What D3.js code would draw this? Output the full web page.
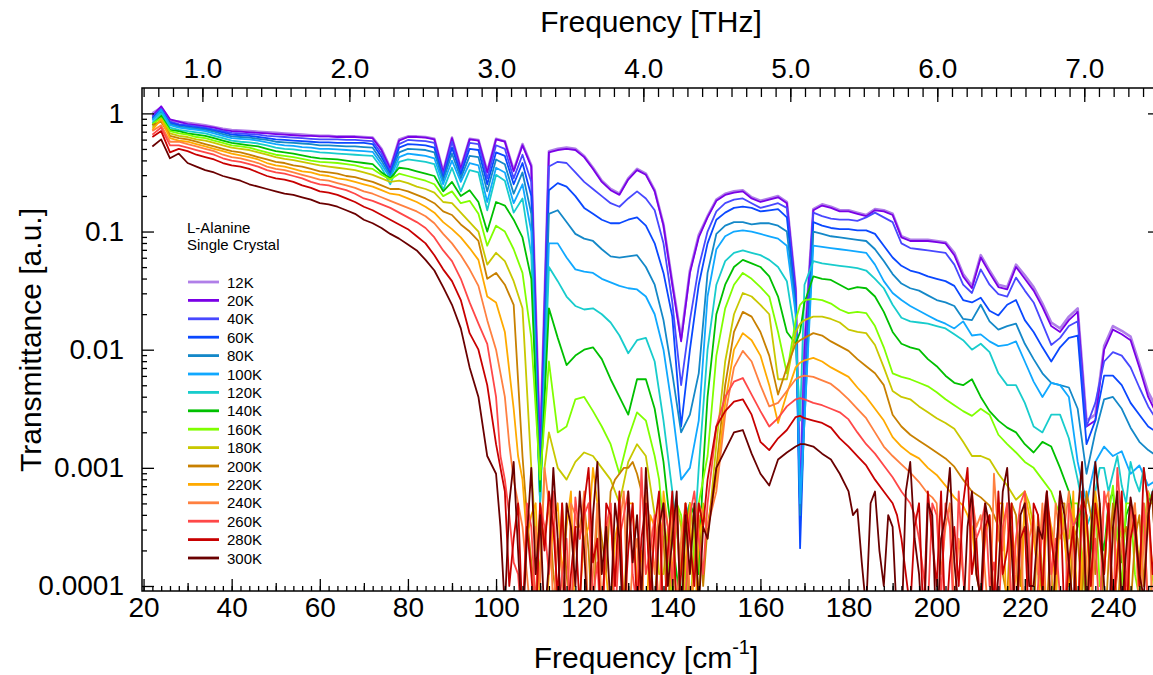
<!DOCTYPE html>
<html>
<head>
<meta charset="utf-8">
<script src="https://cdn.jsdelivr.net/npm/d3@7"></script>
<style>
  body { margin: 0; background: #fff; }
  svg { display: block; font-family: "Liberation Sans", Arial, sans-serif; }
  .tick-label { font-size: 28px; fill: #000; }
  .axis-title { font-size: 30px; fill: #000; }
  .legend text { font-size: 15px; fill: #000; }
</style>
</head>
<body>
<svg id="chart" width="1153" height="675"></svg>
<script>
// wavenumber grid in cm-1, shared by every temperature
const wavenumber = [
  22, 24, 26, 28, 30, 32, 34, 36, 38, 40,
  42, 44, 46, 48, 50, 52, 54, 56, 58, 60,
  62, 64, 66, 68, 70, 72, 74, 76, 78, 80,
  82, 84, 86, 88, 90, 92, 94, 96, 98, 100,
  102, 104, 106, 108, 110, 112, 114, 116, 118, 120,
  122, 124, 126, 128, 130, 132, 134, 136, 138, 140,
  142, 144, 146, 148, 150, 152, 154, 156, 158, 160,
  162, 164, 166, 168, 169, 170, 172, 174, 176, 178,
  180, 182, 184, 186, 188, 190, 192, 194, 196, 198,
  200, 202, 204, 206, 208, 210, 212, 214, 216, 218,
  220, 222, 224, 226, 228, 230, 232, 234, 236, 238,
  240, 242, 244, 246, 248, 250
]
// extra points in the two noise-floor bands (odd wavenumbers)
const oddWavenumber = [
  101, 103, 105, 107, 109, 111, 113, 115, 117, 119, 121, 123,
  125, 127, 129, 131, 133, 135, 137, 139, 141, 143, 145, 147,
  181, 183, 185, 187, 189, 191, 193, 195, 197, 199, 201, 203,
  205, 207, 209, 211, 213, 215, 217, 219, 221, 223, 225, 227,
  229, 231, 233, 235, 237, 239, 241, 243, 245, 247, 249
]

const temperatures = ['12K', '20K', '40K', '60K', '80K', '100K', '120K', '140K',
  '160K', '180K', '200K', '220K', '240K', '260K', '280K', '300K']
const colors = ['#b07fe8', '#7a00e6', '#4848ff', '#0a48ff', '#1488c8', '#10a8ff',
  '#18cccc', '#00c000', '#80ff00', '#c8c800', '#c88000', '#ffaa00',
  '#ff8040', '#ff4848', '#c80000', '#6a0000']

// log10 of transmittance
const log12K = [
  0.0, 0.05, -0.06, -0.07, -0.08, -0.09, -0.1, -0.115, -0.13, -0.14,
  -0.145, -0.15, -0.155, -0.16, -0.165, -0.17, -0.175, -0.18, -0.185, -0.19,
  -0.19, -0.195, -0.195, -0.195, -0.2, -0.205, -0.3, -0.46, -0.22, -0.195,
  -0.195, -0.2, -0.215, -0.49, -0.205, -0.46, -0.215, -0.225, -0.49, -0.215,
  -0.235, -0.48, -0.26, -0.44, -2.85, -0.32, -0.3, -0.29, -0.3, -0.36,
  -0.46, -0.57, -0.64, -0.68, -0.55, -0.47, -0.51, -0.65, -0.94, -1.43,
  -1.9, -1.33, -1.03, -0.87, -0.73, -0.68, -0.66, -0.65, -0.71, -0.74,
  -0.72, -0.7, -0.75, -1.48, -3.25, -1.95, -0.81, -0.77, -0.79, -0.82,
  -0.82, -0.84, -0.86, -0.81, -0.82, -0.85, -1.04, -1.07, -1.07, -1.07,
  -1.08, -1.09, -1.18, -1.36, -1.46, -1.2, -1.33, -1.45, -1.47, -1.28,
  -1.37, -1.47, -1.61, -1.77, -1.82, -1.72, -1.65, -2.6, -2.55, -1.97,
  -1.8, -1.84, -1.89, -2.12, -2.36, -2.5
]
const log20K = [
  -0.02, 0.06, -0.05, -0.07, -0.09, -0.10, -0.11, -0.12, -0.14, -0.15,
  -0.155, -0.16, -0.165, -0.17, -0.175, -0.18, -0.185, -0.19, -0.19, -0.195,
  -0.195, -0.2, -0.2, -0.2, -0.205, -0.21, -0.31, -0.47, -0.23, -0.2,
  -0.2, -0.205, -0.22, -0.5, -0.21, -0.47, -0.22, -0.23, -0.5, -0.22,
  -0.24, -0.49, -0.27, -0.45, -2.9, -0.33, -0.31, -0.3, -0.31, -0.37,
  -0.47, -0.58, -0.65, -0.69, -0.56, -0.48, -0.52, -0.66, -0.95, -1.45,
  -1.93, -1.35, -1.05, -0.88, -0.74, -0.69, -0.67, -0.66, -0.72, -0.75,
  -0.73, -0.71, -0.76, -1.5, -3.3, -2.0, -0.82, -0.78, -0.8, -0.83,
  -0.83, -0.85, -0.87, -0.82, -0.83, -0.86, -1.05, -1.08, -1.08, -1.08,
  -1.09, -1.1, -1.2, -1.38, -1.48, -1.22, -1.35, -1.47, -1.49, -1.3,
  -1.4, -1.5, -1.64, -1.8, -1.85, -1.75, -1.68, -2.65, -2.6, -2.0,
  -1.83, -1.87, -1.92, -2.15, -2.4, -2.55
]
const log40K = [
  -0.03, 0.04, -0.07, -0.09, -0.10, -0.11, -0.12, -0.135, -0.15, -0.165,
  -0.17, -0.175, -0.18, -0.19, -0.195, -0.2, -0.205, -0.21, -0.215, -0.22,
  -0.22, -0.22, -0.225, -0.225, -0.23, -0.235, -0.34, -0.49, -0.26, -0.225,
  -0.23, -0.235, -0.25, -0.53, -0.24, -0.5, -0.25, -0.26, -0.55, -0.27,
  -0.3, -0.55, -0.35, -0.58, -3.1, -0.45, -0.41, -0.42, -0.5, -0.58,
  -0.64, -0.7, -0.76, -0.79, -0.72, -0.66, -0.72, -0.82, -1.1, -1.6,
  -2.3, -1.75, -1.3, -1.0, -0.83, -0.76, -0.73, -0.72, -0.76, -0.8,
  -0.78, -0.76, -0.8, -1.55, -3.3, -2.2, -0.84, -0.87, -0.89, -0.9,
  -0.9, -0.91, -0.88, -0.84, -0.88, -0.92, -1.1, -1.14, -1.15, -1.16,
  -1.17, -1.18, -1.28, -1.45, -1.52, -1.32, -1.45, -1.53, -1.55, -1.39,
  -1.5, -1.6, -1.78, -1.96, -1.9, -1.8, -1.76, -2.65, -2.45, -2.1,
  -2.02, -2.05, -2.15, -2.32, -2.48, -2.6
]
const log60K = [
  -0.04, 0.03, -0.08, -0.10, -0.11, -0.12, -0.13, -0.145, -0.16, -0.18,
  -0.185, -0.19, -0.2, -0.21, -0.22, -0.225, -0.23, -0.235, -0.24, -0.245,
  -0.245, -0.25, -0.25, -0.25, -0.25, -0.26, -0.37, -0.51, -0.29, -0.26,
  -0.265, -0.27, -0.29, -0.55, -0.29, -0.52, -0.3, -0.31, -0.6, -0.33,
  -0.36, -0.6, -0.42, -0.7, -3.2, -0.65, -0.59, -0.62, -0.7, -0.8,
  -0.85, -0.9, -0.93, -0.93, -0.9, -0.88, -0.95, -1.1, -1.35, -1.72,
  -2.65, -2.0, -1.45, -1.1, -0.9, -0.84, -0.8, -0.79, -0.8, -0.83,
  -0.82, -0.81, -0.88, -1.6, -3.68, -2.5, -0.92, -0.95, -0.97, -0.98,
  -0.98, -0.99, -0.99, -1.02, -1.12, -1.22, -1.29, -1.33, -1.35, -1.38,
  -1.40, -1.42, -1.46, -1.58, -1.6, -1.56, -1.67, -1.71, -1.62, -1.58,
  -1.75, -1.85, -1.98, -2.1, -1.98, -1.9, -1.88, -2.8, -2.6, -2.22,
  -2.22, -2.3, -2.45, -2.55, -2.65, -2.7
]
const log80K = [
  -0.05, 0.02, -0.09, -0.11, -0.12, -0.13, -0.14, -0.155, -0.175, -0.195,
  -0.2, -0.205, -0.215, -0.225, -0.24, -0.245, -0.25, -0.255, -0.26, -0.27,
  -0.27, -0.275, -0.28, -0.28, -0.285, -0.29, -0.4, -0.53, -0.33, -0.3,
  -0.305, -0.31, -0.33, -0.57, -0.34, -0.55, -0.36, -0.37, -0.66, -0.39,
  -0.43, -0.68, -0.5, -0.85, -3.3, -0.85, -0.82, -0.92, -1.02, -1.06,
  -1.08, -1.15, -1.21, -1.22, -1.21, -1.2, -1.3, -1.45, -1.75, -2.2,
  -2.7, -2.55, -2.2, -1.35, -1.02, -0.95, -0.92, -0.92, -0.94, -0.93,
  -0.93, -0.95, -1.0, -1.65, -3.4, -2.6, -1.0, -1.02, -1.04, -1.05,
  -1.06, -1.07, -1.08, -1.15, -1.25, -1.36, -1.44, -1.48, -1.5, -1.54,
  -1.58, -1.6, -1.63, -1.74, -1.75, -1.62, -1.76, -1.83, -1.8, -1.78,
  -1.95, -2.08, -2.2, -2.28, -2.3, -2.32, -2.5, -3.05, -2.7, -2.42,
  -2.4, -2.5, -2.66, -2.78, -2.85, -2.9
]
const log100K = [
  -0.06, 0.03, -0.1, -0.12, -0.13, -0.14, -0.15, -0.17, -0.19, -0.21,
  -0.215, -0.22, -0.23, -0.245, -0.26, -0.27, -0.275, -0.285, -0.29, -0.3,
  -0.3, -0.305, -0.31, -0.315, -0.32, -0.325, -0.43, -0.55, -0.37, -0.34,
  -0.35, -0.36, -0.38, -0.6, -0.4, -0.58, -0.42, -0.44, -0.75, -0.46,
  -0.5, -0.76, -0.6, -1.0, -3.3, -1.1, -1.1, -1.22, -1.32, -1.34,
  -1.35, -1.4, -1.43, -1.46, -1.48, -1.49, -1.55, -1.7, -2.0, -2.5,
  -3.1, -3.0, -2.6, -1.55, -1.15, -1.04, -1.0, -0.99, -1.0, -1.02,
  -1.04, -1.06, -1.12, -1.7, -3.3, -2.6, -1.12, -1.13, -1.14, -1.15,
  -1.16, -1.17, -1.18, -1.28, -1.42, -1.52, -1.58, -1.63, -1.67, -1.71,
  -1.75, -1.78, -1.82, -1.76, -1.88, -1.87, -1.93, -1.97, -1.96, -1.93,
  -2.1, -2.27, -2.4, -2.28, -2.3, -2.4, -2.95, -3.3, -2.95, -2.82,
  -2.9, -2.86, -3.05, -2.98, -3.15, -3.1
]
const log120K = [
  -0.08, 0.0, -0.12, -0.14, -0.15, -0.16, -0.17, -0.19, -0.21, -0.23,
  -0.24, -0.245, -0.255, -0.27, -0.29, -0.3, -0.305, -0.315, -0.32, -0.33,
  -0.335, -0.34, -0.345, -0.35, -0.355, -0.36, -0.46, -0.6, -0.41, -0.39,
  -0.4, -0.41, -0.43, -0.65, -0.46, -0.66, -0.48, -0.5, -0.82, -0.52,
  -0.57, -0.84, -0.72, -1.2, -3.3, -1.3, -1.42, -1.55, -1.63, -1.66,
  -1.65, -1.7, -1.77, -1.88, -2.03, -1.92, -1.9, -2.1, -2.6, -3.2,
  -3.9, -3.3, -3.0, -2.0, -1.45, -1.25, -1.18, -1.16, -1.18, -1.2,
  -1.24, -1.3, -1.42, -1.9, -2.6, -1.45, -1.25, -1.27, -1.28, -1.29,
  -1.3, -1.31, -1.33, -1.4, -1.48, -1.62, -1.73, -1.76, -1.77, -1.78,
  -1.8, -1.82, -1.87, -1.92, -2.0, -1.95, -2.02, -2.2, -2.3, -2.3,
  -2.45, -2.65, -2.7, -2.55, -2.55, -2.75, -3.1, -3.5, -3.2, -3.0,
  -3.05, -3.15, -2.95, -3.2, -3.3, -3.1
]
const log140K = [
  -0.10, -0.02, -0.14, -0.15, -0.17, -0.18, -0.19, -0.21, -0.23, -0.25,
  -0.26, -0.27, -0.28, -0.3, -0.32, -0.33, -0.34, -0.355, -0.37, -0.38,
  -0.385, -0.39, -0.4, -0.41, -0.42, -0.43, -0.5, -0.55, -0.46, -0.47,
  -0.49, -0.51, -0.53, -0.66, -0.58, -0.7, -0.65, -0.75, -1.0, -0.75,
  -0.78, -0.9, -1.05, -1.4, -3.2, -1.65, -1.9, -2.13, -2.05, -2.0,
  -1.98, -2.08, -2.25, -2.4, -2.55, -2.25, -2.25, -2.5, -2.95, -3.6,
  -4.2, -3.3, -3.9, -2.4, -1.7, -1.45, -1.3, -1.24, -1.27, -1.3,
  -1.38, -1.55, -1.85, -1.95, -1.85, -1.6, -1.38, -1.4, -1.41, -1.45,
  -1.49, -1.47, -1.48, -1.55, -1.68, -1.85, -1.95, -1.98, -2.0, -2.08,
  -2.14, -2.22, -2.28, -2.3, -2.25, -2.4, -2.52, -2.6, -2.66, -2.7,
  -2.8, -2.87, -2.78, -2.82, -3.0, -3.2, -3.5, -4.0, -3.3, -3.7,
  -3.2, -3.8, -3.3, -3.9, -3.25, -3.1
]
const log160K = [
  -0.09, -0.04, -0.15, -0.17, -0.18, -0.2, -0.21, -0.23, -0.25, -0.27,
  -0.28, -0.29, -0.31, -0.33, -0.35, -0.36, -0.37, -0.385, -0.4, -0.41,
  -0.415, -0.42, -0.43, -0.44, -0.46, -0.47, -0.52, -0.56, -0.51, -0.53,
  -0.55, -0.57, -0.6, -0.7, -0.66, -0.76, -0.74, -0.85, -1.12, -0.95,
  -1.0, -1.15, -1.35, -1.9, -3.1, -2.1, -2.7, -2.65, -2.42, -2.4,
  -2.52, -2.65, -2.8, -3.05, -2.75, -2.53, -2.6, -2.9, -3.5, -4.1,
  -3.4, -4.3, -3.3, -2.9, -2.05, -1.65, -1.45, -1.35, -1.4, -1.47,
  -1.55, -1.85, -2.2, -1.75, -1.62, -1.58, -1.57, -1.58, -1.61, -1.66,
  -1.69, -1.68, -1.69, -1.8, -1.98, -2.2, -2.23, -2.25, -2.28, -2.31,
  -2.36, -2.42, -2.47, -2.52, -2.56, -2.5, -2.55, -2.72, -2.8, -2.87,
  -2.95, -3.0, -3.1, -3.2, -3.4, -3.9, -3.3, -4.2, -3.25, -3.8,
  -3.15, -4.0, -3.3, -4.1, -3.2, -3.5
]
const log180K = [
  -0.12, -0.05, -0.17, -0.19, -0.2, -0.22, -0.23, -0.25, -0.27, -0.29,
  -0.3, -0.31, -0.33, -0.35, -0.37, -0.385, -0.395, -0.41, -0.425, -0.44,
  -0.45, -0.46, -0.47, -0.48, -0.5, -0.52, -0.55, -0.58, -0.57, -0.59,
  -0.62, -0.64, -0.67, -0.75, -0.76, -0.84, -0.92, -1.0, -1.28, -1.18,
  -1.25, -1.42, -1.65, -3.0, -3.9, -2.7, -3.0, -3.1, -2.95, -2.87,
  -2.9, -3.0, -3.1, -3.3, -2.95, -2.8, -2.9, -3.4, -3.9, -4.3,
  -3.5, -3.3, -4.1, -3.6, -2.8, -2.1, -1.7, -1.52, -1.55, -1.62,
  -1.7, -2.25, -2.25, -1.85, -1.78, -1.75, -1.72, -1.72, -1.74, -1.77,
  -1.83, -1.85, -1.86, -1.96, -2.15, -2.35, -2.4, -2.42, -2.48, -2.53,
  -2.58, -2.62, -2.67, -2.78, -2.9, -2.9, -2.93, -3.05, -3.15, -3.27,
  -3.2, -3.5, -4.1, -3.9, -3.3, -3.6, -4.4, -3.4, -3.3, -3.9,
  -4.2, -3.5, -3.3, -3.8, -4.3, -3.4
]
const log200K = [
  -0.1, -0.07, -0.19, -0.21, -0.22, -0.24, -0.26, -0.28, -0.3, -0.32,
  -0.33, -0.35, -0.37, -0.39, -0.41, -0.42, -0.44, -0.45, -0.47, -0.49,
  -0.5, -0.51, -0.53, -0.54, -0.56, -0.58, -0.61, -0.64, -0.64, -0.66,
  -0.69, -0.72, -0.76, -0.83, -0.86, -0.94, -1.0, -1.08, -1.4, -1.35,
  -1.45, -1.62, -2.9, -3.8, -3.4, -3.3, -4.2, -3.9, -3.5, -3.3,
  -4.4, -3.6, -3.2, -3.05, -3.0, -3.05, -3.4, -4.2, -3.6, -3.3,
  -3.9, -4.4, -3.4, -3.5, -3.0, -2.3, -1.85, -1.68, -1.72, -1.85,
  -2.05, -2.38, -2.15, -1.95, -1.92, -1.9, -1.86, -1.88, -1.93, -1.97,
  -2.01, -2.08, -2.14, -2.2, -2.3, -2.55, -2.65, -2.72, -2.77, -2.82,
  -2.87, -2.92, -2.99, -3.1, -3.2, -3.25, -3.32, -3.5, -4.1, -3.4,
  -3.3, -4.3, -3.9, -3.5, -3.3, -4.4, -3.6, -3.2, -3.9, -4.5,
  -3.3, -3.6, -4.2, -3.4, -3.3, -3.9
]
const log220K = [
  -0.14, -0.05, -0.21, -0.23, -0.24, -0.26, -0.28, -0.3, -0.32, -0.34,
  -0.355, -0.37, -0.39, -0.42, -0.44, -0.45, -0.47, -0.49, -0.5, -0.52,
  -0.53, -0.55, -0.56, -0.58, -0.6, -0.62, -0.65, -0.68, -0.69, -0.72,
  -0.75, -0.79, -0.84, -0.92, -0.98, -1.05, -1.14, -1.24, -1.55, -1.6,
  -1.85, -2.5, -3.1, -3.4, -4.2, -3.9, -3.3, -3.5, -4.4, -3.6,
  -3.0, -3.8, -4.3, -3.4, -3.3, -4.0, -4.5, -3.5, -3.2, -3.9,
  -4.2, -3.3, -3.6, -3.5, -3.1, -2.45, -2.0, -1.86, -1.92, -2.05,
  -2.3, -2.62, -2.37, -2.15, -2.11, -2.09, -2.07, -2.1, -2.15, -2.19,
  -2.23, -2.32, -2.4, -2.5, -2.6, -2.74, -2.82, -2.88, -2.92, -3.0,
  -3.06, -3.15, -3.25, -3.32, -3.5, -4.1, -3.4, -3.3, -4.4, -3.8,
  -3.2, -3.6, -4.3, -3.5, -3.3, -4.0, -4.5, -3.4, -3.2, -3.9,
  -4.2, -3.3, -3.6, -4.0, -3.4, -3.3
]
const log240K = [
  -0.15, -0.1, -0.24, -0.24, -0.26, -0.28, -0.3, -0.32, -0.35, -0.37,
  -0.38, -0.4, -0.42, -0.45, -0.47, -0.48, -0.5, -0.52, -0.54, -0.56,
  -0.57, -0.59, -0.61, -0.63, -0.66, -0.68, -0.71, -0.74, -0.77, -0.8,
  -0.83, -0.87, -0.93, -1.02, -1.1, -1.2, -1.32, -1.46, -1.75, -2.0,
  -2.4, -3.1, -3.5, -4.3, -4.0, -3.3, -3.6, -4.5, -3.4, -3.2,
  -3.9, -4.2, -3.3, -3.5, -4.4, -3.6, -3.2, -3.9, -4.3, -3.4,
  -3.6, -4.1, -3.3, -3.5, -3.2, -2.55, -2.15, -2.01, -2.1, -2.3,
  -2.48, -2.45, -2.35, -2.25, -2.23, -2.22, -2.23, -2.26, -2.29, -2.35,
  -2.42, -2.5, -2.58, -2.7, -2.82, -2.9, -2.97, -3.04, -3.12, -3.22,
  -3.3, -3.5, -4.2, -3.9, -3.25, -3.4, -4.4, -3.6, -3.3, -3.9,
  -4.5, -3.4, -3.3, -4.0, -3.6, -3.2, -4.3, -3.8, -3.4, -3.3,
  -4.2, -3.6, -3.5, -4.4, -3.2, -3.7
]
const log260K = [
  -0.18, -0.12, -0.27, -0.27, -0.29, -0.31, -0.33, -0.35, -0.38, -0.4,
  -0.41, -0.43, -0.45, -0.48, -0.5, -0.51, -0.53, -0.55, -0.58, -0.6,
  -0.61, -0.63, -0.65, -0.68, -0.72, -0.74, -0.77, -0.8, -0.84, -0.88,
  -0.92, -0.97, -1.05, -1.16, -1.25, -1.4, -1.6, -1.78, -1.95, -2.4,
  -3.1, -3.8, -4.4, -3.5, -3.3, -3.9, -4.3, -3.6, -3.25, -3.4,
  -4.1, -4.5, -3.3, -3.6, -3.2, -4.2, -3.9, -3.4, -3.3, -4.0,
  -4.3, -3.4, -3.6, -3.3, -2.65, -2.4, -2.27, -2.24, -2.38, -2.52,
  -2.65, -2.58, -2.48, -2.42, -2.41, -2.42, -2.45, -2.47, -2.5, -2.53,
  -2.59, -2.7, -2.8, -2.88, -2.98, -3.08, -3.2, -3.3, -3.6, -4.2,
  -3.4, -3.3, -4.4, -3.9, -3.2, -3.5, -4.0, -4.3, -3.3, -3.6,
  -3.2, -4.5, -3.5, -3.9, -4.1, -3.3, -3.4, -4.2, -3.6, -3.2,
  -4.4, -3.5, -3.3, -3.9, -4.3, -3.4
]
const log280K = [
  -0.2, -0.15, -0.33, -0.3, -0.32, -0.35, -0.37, -0.39, -0.42, -0.44,
  -0.45, -0.47, -0.5, -0.53, -0.55, -0.56, -0.58, -0.61, -0.63, -0.66,
  -0.67, -0.69, -0.72, -0.75, -0.79, -0.82, -0.86, -0.9, -0.94, -0.98,
  -1.04, -1.1, -1.2, -1.32, -1.42, -1.58, -1.86, -2.0, -2.3, -2.8,
  -3.2, -3.6, -4.3, -3.9, -3.3, -3.2, -4.1, -4.4, -3.5, -3.3,
  -3.8, -4.5, -3.4, -3.2, -3.7, -4.2, -3.3, -3.5, -4.4, -3.2,
  -3.9, -3.6, -3.3, -3.1, -2.65, -2.52, -2.44, -2.42, -2.55, -2.78,
  -2.85, -2.75, -2.68, -2.57, -2.56, -2.58, -2.6, -2.62, -2.66, -2.75,
  -2.82, -2.9, -2.98, -3.1, -3.2, -3.3, -3.6, -4.2, -3.3, -3.2,
  -4.0, -4.4, -3.5, -3.3, -3.9, -4.3, -3.4, -3.2, -3.7, -4.5,
  -3.5, -3.3, -4.1, -3.6, -3.2, -3.8, -4.4, -3.4, -3.3, -3.9,
  -4.2, -3.2, -3.6, -4.0, -3.3, -3.5
]
const log300K = [
  -0.28, -0.22, -0.38, -0.34, -0.42, -0.45, -0.48, -0.5, -0.53, -0.55,
  -0.57, -0.6, -0.62, -0.64, -0.66, -0.68, -0.69, -0.71, -0.73, -0.76,
  -0.77, -0.79, -0.82, -0.85, -0.9, -0.93, -0.97, -1.02, -1.06, -1.11,
  -1.16, -1.24, -1.33, -1.47, -1.62, -1.82, -2.15, -2.4, -2.9, -3.05,
  -4.2, -2.95, -4.4, -3.0, -3.4, -3.8, -3.6, -3.3, -4.0, -3.7,
  -3.4, -3.9, -4.2, -3.6, -3.2, -3.4, -3.0, -4.3, -3.3, -3.6,
  -4.4, -3.9, -4.2, -3.6, -3.0, -2.85, -2.7, -2.68, -2.88, -3.05,
  -3.15, -2.93, -2.87, -2.82, -2.8, -2.8, -2.82, -2.88, -2.93, -3.05,
  -3.2, -3.35, -4.2, -3.2, -4.0, -3.5, -4.4, -2.95, -3.9, -3.3,
  -4.5, -3.4, -3.8, -4.3, -3.2, -4.1, -3.5, -3.9, -3.0, -4.4,
  -3.3, -4.0, -3.6, -4.5, -3.2, -3.8, -3.4, -4.3, -2.95, -4.0,
  -3.5, -4.2, -3.25, -3.9, -3.4, -4.1
]

// noise-floor readings at the odd wavenumbers (null where the trace is smooth)
const noise120K = [
  null, null, null, null, null, null, null, null, null, null, null, null,
  null, null, null, null, null, null, null, null, -3.5, -3.4, -3.6, -2.5,
  null, null, null, null, null, null, null, null, null, null, null, null,
  null, null, null, null, null, null, null, null, null, null, null, null,
  null, null, -3.3, -3.4, -3.0, -3.2, -2.9, -3.3, -3.1, -3.0, -3.2
]
const noise140K = [
  null, null, null, null, null, null, null, null, null, null, null, null,
  null, null, null, null, null, null, null, -3.3, -3.9, -3.5, -3.4, -3.0,
  null, null, null, null, null, null, null, null, null, null, null, null,
  null, null, null, null, null, null, null, null, null, null, null, null,
  null, -3.4, -3.3, -3.7, -3.5, -3.3, -3.6, -3.4, -3.5, -3.6, -3.3
]
const noise160K = [
  null, null, null, null, null, null, null, null, null, null, null, null,
  null, null, null, null, null, null, -3.1, -3.8, -3.3, -3.9, -3.6, -3.1,
  null, null, null, null, null, null, null, null, null, null, null, null,
  null, null, null, null, null, null, null, null, null, null, null, null,
  -3.6, -3.3, -3.8, -3.5, -4.0, -3.4, -3.6, -3.3, -3.9, -3.5, -3.3
]
const noise180K = [
  null, null, null, null, -3.6, -3.0, null, null, null, null, null, null,
  null, null, null, null, null, null, -3.9, -3.5, -3.3, -4.2, -3.6, -3.3,
  null, null, null, null, null, null, null, null, null, null, null, null,
  null, null, null, null, null, null, null, null, -3.3, -3.8, -3.4, -4.2,
  -3.5, -3.3, -3.9, -4.0, -3.5, -3.3, -3.7, -4.4, -3.5, -3.3, -3.9
]
const noise200K = [
  null, null, null, -3.4, -4.1, -3.6, -3.9, -3.3, -4.3, -3.5, -3.7, -3.3,
  -3.9, -3.1, -3.0, -2.95, -3.2, -3.9, -3.4, -4.3, -3.5, -3.3, -3.8, -4.0,
  null, null, null, null, null, null, null, null, null, null, null, null,
  null, null, null, null, -3.4, -3.9, -3.3, -4.0, -3.6, -3.4, -4.2, -3.8,
  -3.3, -3.5, -4.1, -3.4, -3.3, -3.8, -4.3, -3.5, -3.6, -4.0, -3.3
]
const noise220K = [
  null, null, -2.9, -3.6, -3.3, -4.4, -3.5, -3.9, -3.2, -4.1, -3.5, -3.3,
  -3.9, -3.6, -4.2, -3.3, -3.7, -3.4, -4.3, -3.5, -3.3, -3.8, -4.4, -3.4,
  null, null, null, null, null, null, null, null, null, null, null, null,
  null, -3.4, -3.9, -3.6, -4.2, -3.3, -3.5, -4.4, -3.4, -3.9, -3.3, -4.1,
  -3.6, -3.2, -3.8, -4.3, -3.5, -3.3, -3.7, -4.4, -3.3, -3.6, -3.9
]
const noise240K = [
  null, -2.8, -3.3, -3.9, -3.5, -3.0, -4.2, -3.9, -3.3, -3.6, -4.4, -3.3,
  -3.6, -4.0, -3.2, -3.8, -4.4, -3.5, -3.3, -3.7, -4.2, -3.3, -3.9, -3.4,
  null, null, null, null, null, null, null, null, null, -3.25, -3.9, -3.3,
  -3.6, -4.3, -3.5, -3.9, -3.05, -3.7, -4.2, -3.4, -3.6, -3.9, -4.4, -3.3,
  -3.5, -3.9, -3.3, -4.5, -3.6, -3.2, -3.9, -4.1, -3.3, -3.6, -4.3
]
const noise260K = [
  -2.9, -3.4, -3.9, -3.3, -4.2, -3.5, -3.2, -3.9, -4.4, -3.6, -3.3, -3.8,
  -3.5, -4.3, -3.4, -3.9, -3.0, -3.7, -4.4, -3.5, -3.3, -4.1, -3.2, -3.9,
  null, null, null, null, null, null, null, -3.4, -3.9, -3.3, -4.1, -3.5,
  -3.2, -4.5, -3.6, -3.3, -3.8, -3.5, -4.2, -3.3, -3.7, -4.0, -3.2, -3.6,
  -4.4, -3.5, -3.3, -3.9, -4.3, -3.4, -3.0, -4.0, -3.6, -3.3, -4.2
]
const noise280K = [
  -3.0, -4.0, -3.3, -3.5, -4.4, -3.7, -3.5, -3.3, -3.9, -4.2, -3.0, -3.6,
  -3.3, -4.0, -4.3, -3.3, -3.6, -4.1, -3.2, -3.7, -4.3, -3.3, -4.0, -3.5,
  null, null, null, null, null, -3.4, -3.9, -3.5, -4.3, -3.6, -3.2, -3.8,
  -4.0, -3.0, -3.6, -3.5, -4.2, -3.9, -3.3, -3.6, -4.4, -3.4, -3.2, -3.9,
  -4.3, -3.5, -3.2, -4.0, -3.6, -3.3, -3.8, -4.3, -3.4, -3.0, -3.9
]
const noise300K = [
  -3.5, -3.3, -3.7, -3.6, -3.9, -4.3, -3.0, -4.5, -3.5, -3.2, -4.4, -2.95,
  -3.5, -3.3, -4.5, -3.8, -4.1, -3.7, -3.5, -4.0, -3.2, -3.4, -3.3, -3.5,
  -3.4, -3.8, -3.3, -3.7, -3.4, -4.3, -3.2, -3.6, -4.5, -3.4, -3.6, -3.0,
  -4.2, -3.5, -3.9, -3.3, -4.4, -3.2, -3.7, -3.4, -4.0, -3.5, -3.2, -3.8,
  -3.4, -4.2, -2.95, -3.6, -3.3, -4.4, -3.2, -3.7, -3.5, -4.1, -3.2
]

const spectra = [log12K, log20K, log40K, log60K, log80K, log100K, log120K, log140K,
  log160K, log180K, log200K, log220K, log240K, log260K, log280K, log300K]
const noiseFloor = [null, null, null, null, null, null, noise120K, noise140K,
  noise160K, noise180K, noise200K, noise220K, noise240K, noise260K, noise280K, noise300K]

const decades = [1e-4, 1e-3, 1e-2, 1e-1, 1]
const cmTicks = [20, 40, 60, 80, 100, 120, 140, 160, 180, 200, 220, 240]
const thzTicks = [1, 2, 3, 4, 5, 6, 7]
const cmPerTHz = 33.356

const plot = { left: 142, right: 1157, top: 88, bottom: 591 }
const svg = d3.select('#chart')

const x = d3.scaleLinear().domain([19.65, 250]).range([plot.left, plot.right])
const xTHz = d3.scaleLinear().domain(x.domain().map(v => v / cmPerTHz)).range(x.range())
const y = d3.scaleLog().domain([0.907e-4, 1.64]).range([plot.bottom, plot.top])

svg.append('defs').append('clipPath').attr('id', 'plot-clip')
  .append('rect')
  .attr('x', plot.left).attr('y', plot.top)
  .attr('width', plot.right - plot.left).attr('height', plot.bottom - plot.top)

// spectra, coldest first so the warm noise sits on top
const line = d3.line()
  .x(d => x(d[0]))
  .y(d => y(Math.pow(10, d[1])))

const traces = svg.append('g').attr('clip-path', 'url(#plot-clip)')
spectra.forEach((values, i) => {
  const points = d3.zip(wavenumber, values)
  if (noiseFloor[i]) {
    d3.zip(oddWavenumber, noiseFloor[i]).forEach(p => { if (p[1] !== null) points.push(p) })
    points.sort((a, b) => a[0] - b[0])
  }
  traces.append('path')
    .datum(points)
    .attr('d', line)
    .attr('fill', 'none')
    .attr('stroke', colors[i])
    .attr('stroke-width', i === 0 ? 2.6 : 1.8)
    .attr('stroke-linejoin', 'round')
})

// axes: ticks point inward on all four sides
function tidy (g) {
  g.attr('font-family', null).attr('font-size', null)
  g.select('.domain').remove()
  g.selectAll('.tick line').attr('stroke', '#000').attr('stroke-width', 1.3)
  g.selectAll('.tick text').attr('class', 'tick-label').attr('fill', '#000')
  return g
}

const minorLog = []
decades.forEach(d => d3.range(2, 10).forEach(m => {
  const v = d * m
  if (v > y.domain()[0] && v < y.domain()[1]) minorLog.push(v)
}))

svg.append('g').attr('transform', `translate(${plot.left},0)`)
  .call(d3.axisLeft(y).tickValues(minorLog).tickSize(-5).tickFormat(''))
  .call(tidy)
svg.append('g').attr('transform', `translate(${plot.left},0)`)
  .call(d3.axisLeft(y).tickValues(decades).tickSize(-12).tickPadding(18).tickFormat(d => String(d)))
  .call(tidy)
svg.append('g').attr('transform', `translate(${plot.right},0)`)
  .call(d3.axisRight(y).tickValues(decades).tickSize(-9).tickFormat(''))
  .call(tidy)

svg.append('g').attr('transform', `translate(0,${plot.bottom})`)
  .call(d3.axisBottom(x).tickValues(d3.range(20, 251, 2)).tickSize(-5).tickFormat(''))
  .call(tidy)
svg.append('g').attr('transform', `translate(0,${plot.bottom})`)
  .call(d3.axisBottom(x).tickValues(d3.range(30, 251, 20)).tickSize(-8).tickFormat(''))
  .call(tidy)
svg.append('g').attr('transform', `translate(0,${plot.bottom})`)
  .call(d3.axisBottom(x).tickValues(cmTicks).tickSize(-12).tickPadding(6))
  .call(tidy)

const thzMinor = d3.range(6, 75).map(v => v / 10)
svg.append('g').attr('transform', `translate(0,${plot.top})`)
  .call(d3.axisTop(xTHz).tickValues(thzMinor).tickSize(-9).tickFormat(''))
  .call(tidy)
svg.append('g').attr('transform', `translate(0,${plot.top})`)
  .call(d3.axisTop(xTHz).tickValues(thzTicks).tickSize(-14).tickPadding(10).tickFormat(d3.format('.1f')))
  .call(tidy)

// frame
svg.append('path')
  .attr('d', `M${plot.left},${plot.bottom}V${plot.top}H${plot.right}V${plot.bottom}Z`)
  .attr('fill', 'none').attr('stroke', '#000').attr('stroke-width', 1.5)

// axis titles
svg.append('text').attr('class', 'axis-title')
  .attr('x', 651).attr('y', 32).attr('text-anchor', 'middle')
  .text('Frequency [THz]')

const bottomTitle = svg.append('text').attr('class', 'axis-title')
  .attr('x', 646).attr('y', 668).attr('text-anchor', 'middle')
bottomTitle.append('tspan').text('Frequency [cm')
bottomTitle.append('tspan').attr('dy', -14).attr('font-size', 20).text('-1')
bottomTitle.append('tspan').attr('dy', 14).text(']')

svg.append('text').attr('class', 'axis-title')
  .attr('transform', 'translate(41,340) rotate(-90)')
  .attr('text-anchor', 'middle')
  .text('Transmittance [a.u.]')

// legend
const legend = svg.append('g').attr('class', 'legend')
legend.append('text').attr('x', 187).attr('y', 233).text('L-Alanine')
legend.append('text').attr('x', 187).attr('y', 250).text('Single Crystal')

const rows = legend.selectAll('g.row')
  .data(temperatures)
  .join('g')
  .attr('class', 'row')
  .attr('transform', (d, i) => `translate(0,${282 + i * 18.4})`)
rows.append('line')
  .attr('x1', 188).attr('x2', 219)
  .attr('stroke', (d, i) => colors[i])
  .attr('stroke-width', 2.8)
rows.append('text')
  .attr('x', 227).attr('y', 5.5)
  .text(d => d)
</script>
</body>
</html>
